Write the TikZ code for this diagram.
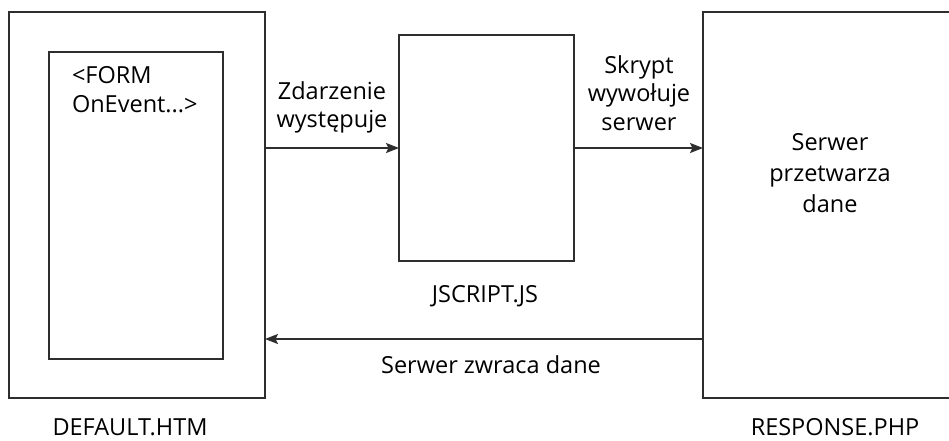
\documentclass[tikz,border=0pt]{standalone}
\usepackage{fontspec}
\setmainfont{Open Sans}
\usetikzlibrary{arrows.meta,calc}
\definecolor{linec}{HTML}{2E2E2E}
\definecolor{textc}{HTML}{000000}
\tikzset{
  box/.style={draw=linec, line width=1.8pt, inner sep=0pt, outer sep=0pt},
  conn/.style={draw=linec, line width=1.8pt, -{Stealth[length=13pt,width=10pt,inset=2.5pt]}},
  lbl/.style={text=textc, inner sep=0pt, outer sep=0pt, font=\fontsize{23.5}{29}\selectfont},
}
\begin{document}
\begin{tikzpicture}[x=1pt,y=-1pt]
\useasboundingbox (0,0) rectangle (949,440);
\clip (0,0) rectangle (949,440);
\fill[white] (0,0) rectangle (949,440);
% boxes
\node[box, minimum width=256pt, minimum height=386pt] (L) at (137,205) {};
\node[box, minimum width=174pt, minimum height=307pt] (I) at (136,205.5) {};
\node[box, minimum width=175pt, minimum height=226pt] (M) at (486.5,148) {};
\node[box, minimum width=260pt, minimum height=386pt] (R) at (833,205) {};
\coordinate (ret) at (0,339);
% connectors
\draw[conn] (L.east |- M.west) -- (M.west);
\draw[conn] (M.east) -- (R.west |- M.east);
\draw[conn] (R.west |- ret) -- (L.east |- ret);
% texts (base anchor = baseline of the last line)
\node[lbl, anchor=base west, align=left] (tform) at (72,112) {<FORM\\OnEvent...>};
\node[lbl, anchor=base, align=center, font=\fontsize{23.5}{28}\selectfont] (tzd) at (332,127) {Zdarzenie\\występuje};
\node[lbl, anchor=base, align=center, font=\fontsize{23.5}{28.5}\selectfont] (tsk) at (639,130) {Skrypt\\wywołuje\\serwer};
\node[lbl, anchor=base, align=center, font=\fontsize{23.5}{31}\selectfont] (tsp) at (830,212) {Serwer\\przetwarza\\dane};
\node[lbl, anchor=base] (tjs) at (485,302) {JSCRIPT.JS};
\node[lbl, anchor=base] (tzw) at (491,373) {Serwer zwraca dane};
\node[lbl, anchor=base] (tdef) at (130,435) {DEFAULT.HTM};
\node[lbl, anchor=base] (tresp) at (835,435) {RESPONSE.PHP};
\end{tikzpicture}
\end{document}
